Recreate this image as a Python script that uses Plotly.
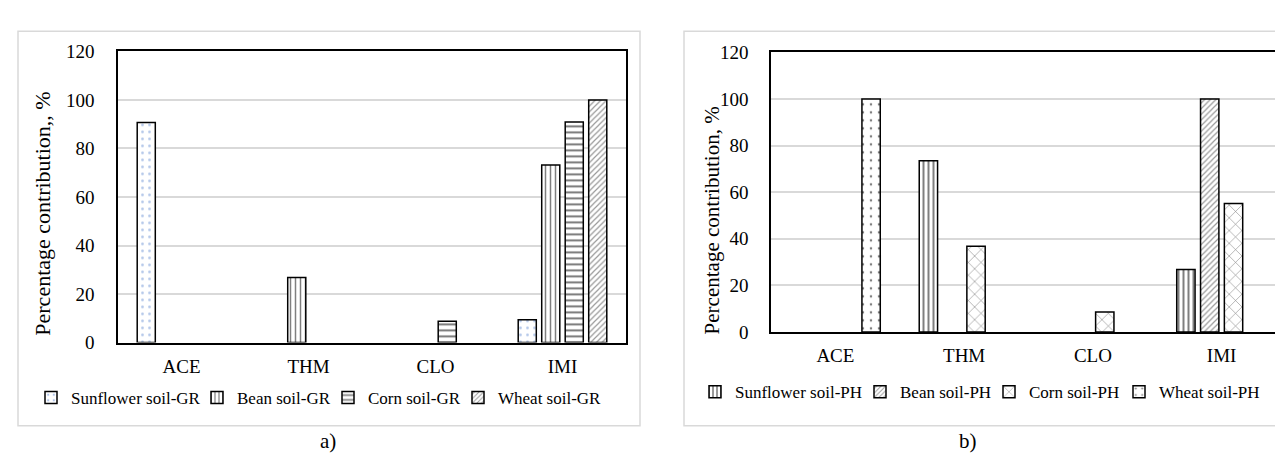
import plotly.graph_objects as go

W, H = 1283, 463

categories = ["ACE", "THM", "CLO", "IMI"]

gr_names = ["Sunflower soil-GR", "Bean soil-GR", "Corn soil-GR", "Wheat soil-GR"]
gr_sunflower = [90.7, 0, 0, 9.4]
gr_bean = [0, 26.8, 0, 73.2]
gr_corn = [0, 0, 8.8, 90.9]
gr_wheat = [0, 0, 0, 100]

ph_names = ["Sunflower soil-PH", "Bean soil-PH", "Corn soil-PH", "Wheat soil-PH"]
ph_sunflower = [0, 73.5, 0, 26.9]
ph_bean = [0, 0, 0, 100]
ph_corn = [0, 36.8, 8.6, 55.2]
ph_wheat = [100, 0, 0, 0]

y_title_gr = "Percentage contribution,, %"
y_title_ph = "Percentage contribution, %"

FONT = "Liberation Serif"

gr_patterns = [
    dict(shape=".", fgcolor="#5b86cf", bgcolor="white", size=7, solidity=0.12),
    dict(shape="|", fgcolor="black", bgcolor="white", size=5, solidity=0.3),
    dict(shape="-", fgcolor="black", bgcolor="white", size=6, solidity=0.35),
    dict(shape="/", fgcolor="#333333", bgcolor="white", size=4, solidity=0.3),
]
ph_patterns = [
    dict(shape="|", fgcolor="black", bgcolor="white", size=5, solidity=0.4),
    dict(shape="/", fgcolor="#333333", bgcolor="white", size=4, solidity=0.3),
    dict(shape="x", fgcolor="black", bgcolor="white", size=9, solidity=0.12),
    dict(shape=".", fgcolor="black", bgcolor="white", size=8, solidity=0.08),
]

# legend entry positions (left edge of swatch, vertical centre) in pixels
gr_leg_pos = [(47, 398), (213, 398), (344, 398), (474, 398)]
ph_leg_pos = [(711, 392), (876, 392), (1005, 392), (1135, 392)]

fig = go.Figure()
legend_layout = {}
k = 0
for series, xa, ya, patterns, positions in [
    (list(zip(gr_names, [gr_sunflower, gr_bean, gr_corn, gr_wheat])), "x", "y", gr_patterns, gr_leg_pos),
    (list(zip(ph_names, [ph_sunflower, ph_bean, ph_corn, ph_wheat])), "x2", "y2", ph_patterns, ph_leg_pos),
]:
    for (name, vals), pat, (lx, ly) in zip(series, patterns, positions):
        k += 1
        lname = "legend" if k == 1 else f"legend{k}"
        fig.add_trace(go.Bar(
            x=categories, y=[v if v > 0 else None for v in vals], name=name,
            xaxis=xa, yaxis=ya, legend=lname, showlegend=True,
            marker=dict(color="white", line=dict(color="black", width=1.5), pattern=pat),
        ))
        legend_layout[lname] = dict(
            orientation="h", x=(lx - 24) / W, xanchor="left", y=1 - ly / H, yanchor="middle",
            font=dict(size=17, family=FONT, color="black"), bgcolor="rgba(0,0,0,0)",
            borderwidth=0,
        )

xcommon = dict(showline=True, linecolor="black", linewidth=1.5, mirror=True, ticks="",
               showgrid=False, tickfont=dict(size=19, family=FONT, color="black"))
ycommon = dict(range=[0, 120], dtick=20, showgrid=True, gridcolor="#d9d9d9", gridwidth=1.5,
               showline=True, linecolor="black", linewidth=1.5, mirror=True, ticks="",
               zeroline=False, tickfont=dict(size=19, family=FONT, color="black"))

fig.update_layout(
    width=W, height=H, margin=dict(l=0, r=0, t=0, b=0),
    paper_bgcolor="white", plot_bgcolor="white", showlegend=True,
    barmode="group", bargap=0.26, bargroupgap=0.23,
    font=dict(family=FONT, color="black"),
    xaxis=dict(domain=[110 / W, 618 / W], anchor="y", ticklabelstandoff=6, **xcommon),
    yaxis=dict(domain=[1 - 340 / H, 1 - 35 / H], anchor="x", ticklabelstandoff=18, **ycommon),
    xaxis2=dict(domain=[763 / W, 1278 / W], anchor="y2", ticklabelstandoff=5, **xcommon),
    yaxis2=dict(domain=[1 - 329 / H, 1 - 36 / H], anchor="x2", ticklabelstandoff=17, **ycommon),
    shapes=[
        dict(type="rect", xref="paper", yref="paper", x0=10 / W, x1=632 / W, y0=1 - 427 / H, y1=1 - 14 / H,
             line=dict(color="#d9d9d9", width=1.5), fillcolor="rgba(0,0,0,0)", layer="below"),
        dict(type="rect", xref="paper", yref="paper", x0=676 / W, x1=1295 / W, y0=1 - 427 / H, y1=1 - 14 / H,
             line=dict(color="#d9d9d9", width=1.5), fillcolor="rgba(0,0,0,0)", layer="below"),
    ],
    annotations=[
        dict(text=y_title_gr, xref="paper", yref="paper", x=35 / W, y=1 - 205 / H, textangle=-90,
             showarrow=False, xanchor="center", yanchor="middle", font=dict(size=22, family=FONT)),
        dict(text=y_title_ph, xref="paper", yref="paper", x=704 / W, y=1 - 212 / H, textangle=-90,
             showarrow=False, xanchor="center", yanchor="middle", font=dict(size=21, family=FONT)),
        dict(text="a)", xref="paper", yref="paper", x=320 / W, y=1 - 443 / H, showarrow=False,
             xanchor="center", yanchor="middle", font=dict(size=21, family=FONT)),
        dict(text="b)", xref="paper", yref="paper", x=960 / W, y=1 - 443 / H, showarrow=False,
             xanchor="center", yanchor="middle", font=dict(size=21, family=FONT)),
    ],
    **legend_layout,
)

fig.write_html("out.html")
